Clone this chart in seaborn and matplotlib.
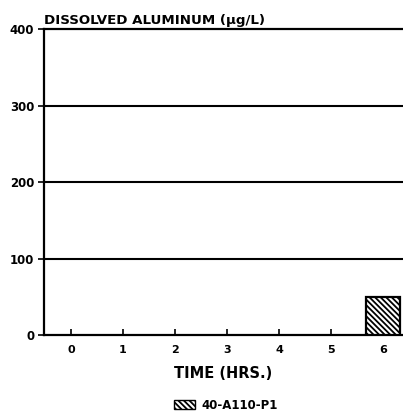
import matplotlib
matplotlib.use("Agg")
import matplotlib.pyplot as plt
import matplotlib.patches as mpatches
import seaborn as sns
import pandas as pd

# Dissolved aluminum by sampling time
hours = ["0", "1", "2", "3", "4", "5", "6"]
aluminum = [0, 0, 0, 0, 0, 0, 50]
sample_label = "40-A110-P1"
y_ticks = [0, 100, 200, 300, 400]

sns.set_theme(style="white")
plt.rcParams["font.family"] = ["DejaVu Sans"]
plt.rcParams["hatch.linewidth"] = 1.3
plt.rcParams["text.color"] = "black"
plt.rcParams["axes.labelcolor"] = "black"

df = pd.DataFrame({"hours": hours, "aluminum": aluminum})

fig = plt.figure(figsize=(4.03, 4.18), dpi=100)
ax = fig.add_axes([44 / 403, 0.1974, 359 / 403, 0.7333])

stripes = "\\" * 6
sns.barplot(data=df, x="hours", y="aluminum", ax=ax, color="white",
            edgecolor="black", linewidth=1.6, width=0.66, hatch=stripes,
            errorbar=None, zorder=3)
# empty samples leave no outline on the baseline
for bar in ax.patches:
    if bar.get_height() == 0:
        bar.set_visible(False)

ax.set_xlim(-0.52, 6.385)
ax.set_ylim(0, 400)
ax.set_yticks(y_ticks)
ax.set_yticklabels([str(v) for v in y_ticks], fontsize=8.5, fontweight="bold")
ax.set_xticks(range(len(hours)))
ax.set_xticklabels(hours, fontsize=8, fontweight="bold")

for v in y_ticks[1:-1]:
    ax.axhline(v, color="black", linewidth=1.5, zorder=1)

for side in ["left", "bottom", "top"]:
    ax.spines[side].set_color("black")
    ax.spines[side].set_linewidth(1.6)
ax.spines["right"].set_visible(False)

ax.tick_params(axis="y", direction="out", length=4, width=1.2, pad=3,
               left=True, colors="black")
ax.tick_params(axis="x", direction="in", length=4, width=1.2, pad=7,
               bottom=True, colors="black")

ax.set_xlabel("TIME (HRS.)", fontsize=10.5, fontweight="bold", labelpad=8)
ax.set_ylabel("")
ax.text(0.0, 1.008, "DISSOLVED ALUMINUM (µg/L)", transform=ax.transAxes,
        fontsize=9.6, fontweight="bold", ha="left", va="bottom")

handle = mpatches.Patch(facecolor="white", edgecolor="black", hatch=stripes,
                        linewidth=1.0, label=sample_label)
fig.legend(handles=[handle], loc="lower center", bbox_to_anchor=(0.56, -0.01),
           frameon=False, handlelength=1.8, handleheight=0.7,
           prop={"size": 8.5, "weight": "bold"}, handletextpad=0.5)

fig.savefig("out.png", dpi=100, facecolor="white")
